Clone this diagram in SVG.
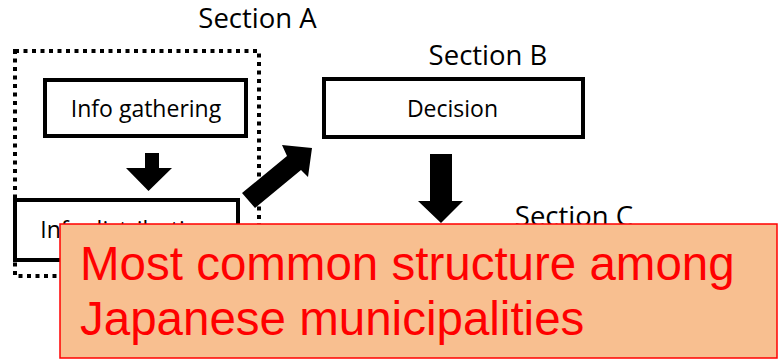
<svg xmlns="http://www.w3.org/2000/svg" width="780" height="361" viewBox="0 0 780 361">
  <style>
    .box { fill: #ffffff; stroke: #000000; stroke-width: 4; }
    .label { font-family: "Open Sans", "Noto Sans", sans-serif; fill: #000000; text-anchor: middle; }
    .section { font-size: 27.5px; }
    .node { font-size: 23px; }
    .arrow { fill: #000000; }
    .callout-text { font-family: "Liberation Sans", Arial, sans-serif; font-size: 47.5px; fill: #ff0000; }
  </style>

  <rect width="780" height="361" fill="#ffffff"/>

  <!-- Section A grouping frame -->
  <g id="section-a">
    <rect x="15" y="51" width="244" height="225" fill="none" stroke="#000000" stroke-width="4" stroke-dasharray="4 4.5"/>
    <text class="label section" x="257.5" y="28">Section A</text>
  </g>

  <g id="section-b">
    <text class="label section" x="488" y="65">Section B</text>
  </g>

  <g id="section-c">
    <text class="label section" x="574" y="226">Section C</text>
  </g>

  <g id="info-gathering">
    <rect class="box" x="45" y="80" width="201" height="56"/>
    <text class="label node" x="146" y="117">Info gathering</text>
  </g>

  <g id="info-distribution">
    <rect class="box" x="15" y="200" width="223" height="60"/>
    <text class="label node" x="126.5" y="238">Info distribution</text>
  </g>

  <g id="decision">
    <rect class="box" x="324" y="79" width="259" height="58"/>
    <text class="label node" x="452.5" y="117">Decision</text>
  </g>

  <!-- Block arrows between stages -->
  <g id="connectors">
    <polygon class="arrow" points="145,153 159,153 159,168 172,168 148.5,191 126,168 145,168"/>
    <polygon class="arrow" points="242,193 287,156 282,145 312,148 308,177 301,170 255,208"/>
    <polygon class="arrow" points="430,154 452,154 452,201 463,201 441,223 418,201 430,201"/>
  </g>

  <!-- Callout banner -->
  <g id="callout">
    <rect x="60" y="224" width="717" height="134" fill="#f8bf90" stroke="#ff0000" stroke-width="1.5"/>
    <text class="callout-text" x="80" y="280">Most common structure among</text>
    <text class="callout-text" x="80" y="335">Japanese municipalities</text>
  </g>
</svg>
